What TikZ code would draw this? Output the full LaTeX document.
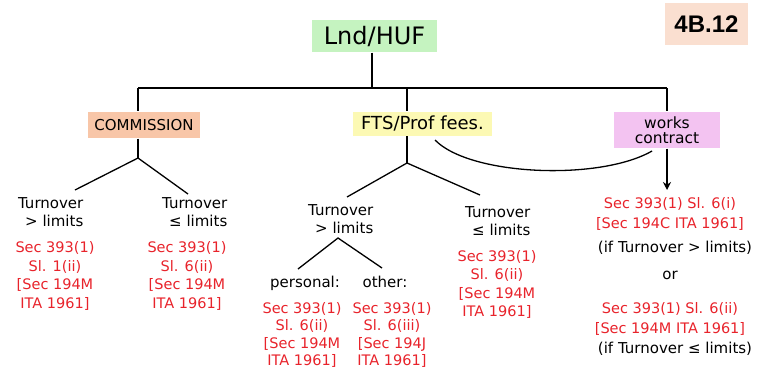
\documentclass[tikz,border=0pt]{standalone}
\usepackage{fontspec}
\setmainfont{DejaVu Sans}
\newfontfamily\tagfont{Liberation Sans}
\usetikzlibrary{arrows.meta}
\definecolor{boxgreen}{HTML}{C5F3C0}
\definecolor{boxorange}{HTML}{F8C6A8}
\definecolor{boxyellow}{HTML}{FCF9B4}
\definecolor{boxpink}{HTML}{F3C3F1}
\definecolor{boxtag}{HTML}{FADFD0}
\definecolor{redtxt}{HTML}{E8232B}
\begin{document}
\begin{tikzpicture}[x=1pt,y=-1pt,line width=1.3pt,
  catbox/.style={inner sep=0pt,align=center},
  blk/.style={inner sep=0pt,font=\fontsize{15}{18}\selectfont},
  redsec/.style={inner sep=0pt,anchor=north,align=center,text=redtxt,font=\fontsize{14.5}{18.5}\selectfont},
  redsecb/.style={inner sep=0pt,anchor=north,align=center,text=redtxt,font=\fontsize{14.5}{17.5}\selectfont}]
\useasboundingbox (0,0) rectangle (773,370);

% tag
\node[catbox,fill=boxtag,minimum width=83,minimum height=42,font=\tagfont\bfseries\fontsize{24}{24}\selectfont] (tag) at (706.5,24) {4B.12};

% top level
\node[catbox,fill=boxgreen,minimum width=125,minimum height=32,font=\fontsize{24}{24}\selectfont] (root) at (374.5,36) {Lnd/HUF};
\node[catbox,fill=boxorange,minimum width=112,minimum height=26,font=\fontsize{15}{15}\selectfont] (comm) at (144,125) {COMMISSION};
\node[catbox,fill=boxyellow,minimum width=139,minimum height=24,font=\fontsize{18}{18}\selectfont] (fts) at (422.5,123.5) {FTS/Prof fees.};
\node[catbox,fill=boxpink,minimum width=106,minimum height=36,font=\fontsize{15.5}{15}\selectfont] (works) at (667,130) {works\\contract};

% trunk
\coordinate (hub) at (372,88);
\coordinate (hl) at (138,88);
\coordinate (hm) at (407,88);
\coordinate (hr) at (667,88);
\draw (root.south -| hub) -- (hub);
\draw (hl) -- (hr);
\draw (hl) -- (hl |- comm.north);
\draw (hm) -- (hm |- fts.north);
\draw (hr) -- (works.north);

% commission branch
\coordinate (ca) at (138,158);
\coordinate (cl) at (75,190);
\coordinate (cr) at (188,194);
\draw (comm.south -| ca) -- (ca);
\draw (cl) -- (ca) -- (cr);
\node[blk,anchor=north east,align=right] (t1) at (84,197) {Turnover\\> limits};
\node[blk,anchor=north east,align=right] (t2) at (228,197) {Turnover\\≤ limits};
\node[redsec] (r1) at (55,241) {Sec 393(1)\\Sl. 1(ii)\\{[}Sec 194M\\ITA 1961]};
\node[redsec] (r2) at (187,241) {Sec 393(1)\\Sl. 6(ii)\\{[}Sec 194M\\ITA 1961]};

% fts branch
\coordinate (fa) at (407,163);
\coordinate (fl) at (347,197);
\coordinate (fr) at (480,195);
\draw (fts.south -| fa) -- (fa);
\draw (fl) -- (fa) -- (fr);
\node[blk,anchor=north east,align=right] (t3) at (374,204) {Turnover\\> limits};
\node[blk,anchor=north east,align=right] (t4) at (531,206) {Turnover\\≤ limits};
\node[redsec] (r4) at (497,249.5) {Sec 393(1)\\Sl. 6(ii)\\{[}Sec 194M\\ITA 1961]};

\coordinate (ga) at (338,238);
\coordinate (gl) at (298,269);
\coordinate (gr) at (382,268);
\draw (gl) -- (ga) -- (gr);
\node[blk,anchor=base] (pers) at (305,287) {personal:};
\node[blk,anchor=base] (oth) at (385,287) {other:};
\node[redsecb] (r5) at (302,301.5) {Sec 393(1)\\Sl. 6(ii)\\{[}Sec 194M\\ITA 1961]};
\node[redsecb] (r6) at (392,301.5) {Sec 393(1)\\Sl. 6(iii)\\{[}Sec 194J\\ITA 1961]};

% works contract
\coordinate (cs) at (435,140);
\coordinate (ce) at (652,151);
\draw (cs) .. controls (470,176) and (600,181) .. (ce);
\coordinate (wa) at (667,190);
\draw[-{Stealth[length=8pt,width=8pt]}] (works.south) -- (wa);
\node[redsec,font=\fontsize{14.5}{20}\selectfont] (w1) at (670,197) {Sec 393(1) Sl. 6(i)\\{[}Sec 194C ITA 1961]};
\node[blk,anchor=base] (w2) at (675,252) {(if Turnover > limits)};
\node[blk,anchor=base] (wor) at (670,279) {or};
\node[redsec,font=\fontsize{14.5}{20}\selectfont] (w3) at (670,302) {Sec 393(1) Sl. 6(ii)\\{[}Sec 194M ITA 1961]};
\node[blk,anchor=base] (w4) at (675,353) {(if Turnover ≤ limits)};
\end{tikzpicture}
\end{document}
